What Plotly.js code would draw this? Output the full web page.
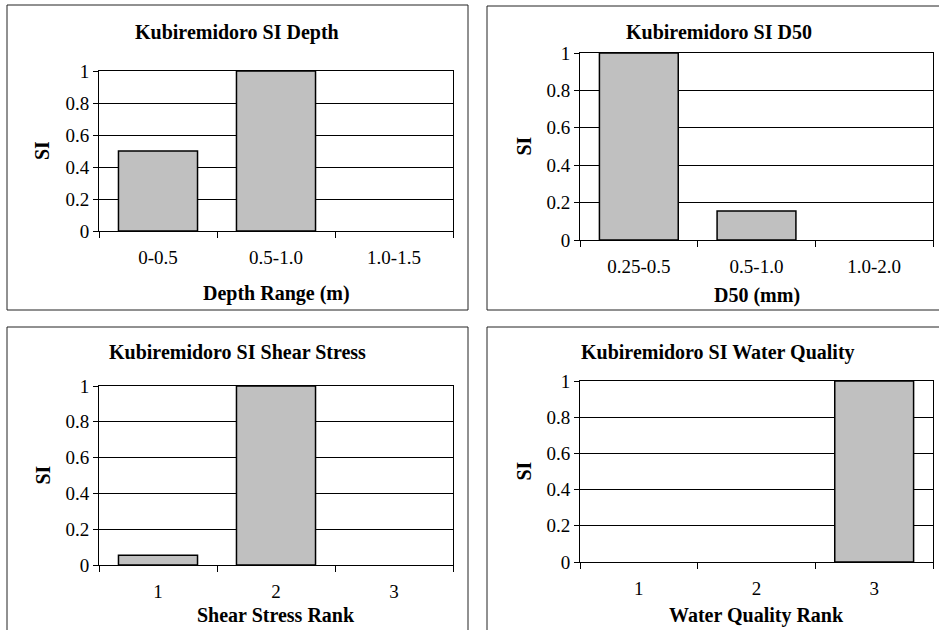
<!DOCTYPE html>
<html>
<head>
<meta charset="utf-8">
<script src="https://cdn.plot.ly/plotly-3.0.1.min.js"></script>
<style>html,body{margin:0;padding:0;background:#fff;}#chart{width:939px;height:630px;}</style>
</head>
<body>
<div id="chart"></div>
<script>
// ---- data ----
const depthCategories = ["0-0.5", "0.5-1.0", "1.0-1.5"];
const depthSI = [0.5, 1.0, 0];
const d50Categories = ["0.25-0.5", "0.5-1.0", "1.0-2.0"];
const d50SI = [1.0, 0.155, 0];
const shearCategories = ["1", "2", "3"];
const shearSI = [0.055, 1.0, 0];
const waterCategories = ["1", "2", "3"];
const waterSI = [0, 0, 1.0];
const panelTitles = ["Kubiremidoro SI Depth", "Kubiremidoro SI D50", "Kubiremidoro SI Shear Stress", "Kubiremidoro SI Water Quality"];
const xTitles = ["Depth Range (m)", "D50 (mm)", "Shear Stress Rank", "Water Quality Rank"];
const yTitle = "SI";
const yTicks = [0, 0.2, 0.4, 0.6, 0.8, 1];

// ---- layout helpers (pixels -> paper) ----
const W = 939, H = 630;
const px = v => v / W;
const py = v => 1 - v / H;
const FONT = "Times New Roman, Liberation Serif, DejaVu Serif, serif";

const panels = [
  {cats: depthCategories, vals: depthSI, plot: [99, 453, 71, 231], box: [7, 468, 5, 310], title: [237.5, 32], xt: 293},
  {cats: d50Categories, vals: d50SI, plot: [580, 933, 53, 240], box: [487, 950, 6, 310], title: [719, 32], xt: 295},
  {cats: shearCategories, vals: shearSI, plot: [99, 453, 386, 565], box: [7, 468, 327, 640], title: [237.5, 352], xt: 615},
  {cats: waterCategories, vals: waterSI, plot: [580, 933, 381, 562], box: [487, 950, 327, 640], title: [717.5, 352], xt: 615}
];

const data = [];
const layout = {
  width: W, height: H,
  margin: {l: 0, r: 0, t: 0, b: 0},
  paper_bgcolor: "#ffffff",
  plot_bgcolor: "#ffffff",
  showlegend: false,
  bargap: 0.33,
  font: {family: FONT, size: 19, color: "#000"},
  shapes: [],
  annotations: []
};

panels.forEach((p, i) => {
  const n = i === 0 ? "" : String(i + 1);
  data.push({
    type: "bar",
    x: p.cats,
    y: p.vals,
    xaxis: "x" + n,
    yaxis: "y" + n,
    marker: {color: "#c0c0c0", line: {color: "#000", width: p.vals.map(v => v > 0 ? 1.5 : 0)}},
    hoverinfo: "x+y"
  });
  layout["xaxis" + n] = {
    domain: [px(p.plot[0]), px(p.plot[1])],
    anchor: "y" + n,
    type: "category",
    range: [-0.5, 2.5],
    showline: true, linecolor: "#000", linewidth: 1, mirror: true,
    showgrid: false, zeroline: false,
    ticks: "outside", tickson: "boundaries", ticklen: 6, tickcolor: "#000",
    ticklabelstandoff: 9,
    tickfont: {family: FONT, size: 19, color: "#000"},
    fixedrange: true
  };
  layout["yaxis" + n] = {
    domain: [py(p.plot[3]), py(p.plot[2])],
    anchor: "x" + n,
    range: [0, 1],
    tickvals: yTicks,
    ticktext: yTicks.map(v => String(v)),
    showline: true, linecolor: "#000", linewidth: 1, mirror: true,
    showgrid: true, gridcolor: "#000", gridwidth: 1,
    zeroline: false,
    ticks: "outside", ticklen: 5, tickcolor: "#000",
    tickfont: {family: FONT, size: 19, color: "#000"},
    fixedrange: true
  };
  // panel border
  layout.shapes.push({
    type: "rect", xref: "paper", yref: "paper",
    x0: px(p.box[0]), x1: px(p.box[1]), y0: py(p.box[3]), y1: py(p.box[2]),
    line: {color: "#222", width: 1}, fillcolor: "rgba(0,0,0,0)", layer: "below"
  });
  // chart title
  layout.annotations.push({
    text: "<b>" + panelTitles[i] + "</b>",
    xref: "paper", yref: "paper",
    x: px(p.title[0]), y: py(p.title[1]),
    xanchor: "center", yanchor: "middle", showarrow: false,
    font: {family: FONT, size: 20, color: "#000"}
  });
  // x axis title
  layout.annotations.push({
    text: "<b>" + xTitles[i] + "</b>",
    xref: "paper", yref: "paper",
    x: px((p.plot[0] + p.plot[1]) / 2), y: py(p.xt),
    xanchor: "center", yanchor: "middle", showarrow: false,
    font: {family: FONT, size: 20, color: "#000"}
  });
  // y axis title
  layout.annotations.push({
    text: "<b>" + yTitle + "</b>",
    xref: "paper", yref: "paper",
    x: px(p.plot[0] - 57), y: py((p.plot[2] + p.plot[3]) / 2),
    xanchor: "center", yanchor: "middle", showarrow: false, textangle: -90,
    font: {family: FONT, size: 20, color: "#000"}
  });
});

Plotly.newPlot("chart", data, layout, {displayModeBar: false, staticPlot: true});
</script>
</body>
</html>
